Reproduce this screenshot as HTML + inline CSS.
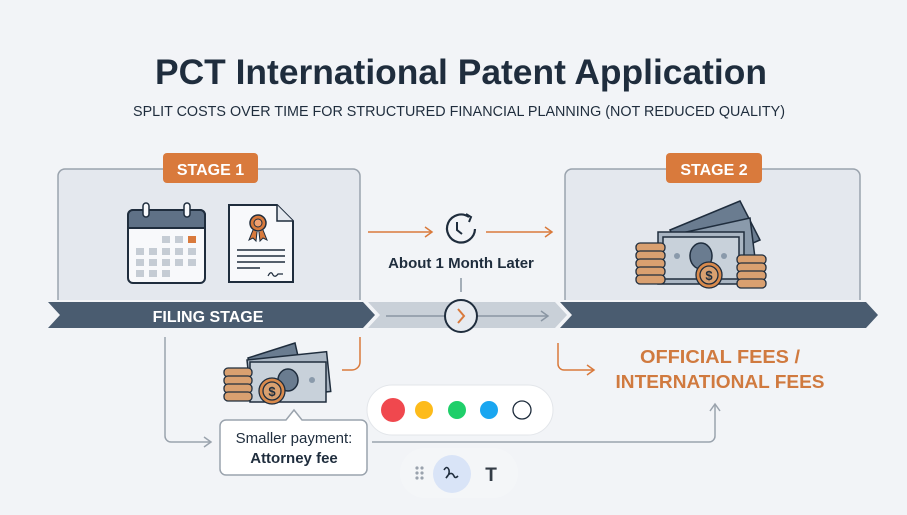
<!DOCTYPE html>
<html><head><meta charset="utf-8"><style>
html,body{margin:0;padding:0;background:#f2f4f7;}
svg{display:block;font-family:"Liberation Sans",sans-serif;}
</style></head><body>
<svg width="907" height="515" viewBox="0 0 907 515" xmlns="http://www.w3.org/2000/svg">
<rect width="907" height="515" fill="#f2f4f7"/>
<text x="461" y="84" text-anchor="middle" font-size="35" font-weight="bold" fill="#1f2d3d" textLength="612" lengthAdjust="spacingAndGlyphs">PCT International Patent Application</text>
<text x="459" y="116" text-anchor="middle" font-size="15" fill="#1f2d3d" textLength="652" lengthAdjust="spacingAndGlyphs">SPLIT COSTS OVER TIME FOR STRUCTURED FINANCIAL PLANNING (NOT REDUCED QUALITY)</text>

<path d="M58 300 V176 a7 7 0 0 1 7 -7 H353 a7 7 0 0 1 7 7 V300" fill="#e4e8ee" stroke="#9aa3ad" stroke-width="1.5"/>
<path d="M565 300 V176 a7 7 0 0 1 7 -7 H853 a7 7 0 0 1 7 7 V300" fill="#e4e8ee" stroke="#9aa3ad" stroke-width="1.5"/>
<rect x="163" y="153" width="95" height="30" rx="4" fill="#d97a3c"/>
<text x="210.5" y="175" text-anchor="middle" font-size="16" font-weight="bold" fill="#fff">STAGE 1</text>
<rect x="666" y="153" width="96" height="30" rx="4" fill="#d97a3c"/>
<text x="714" y="175" text-anchor="middle" font-size="16" font-weight="bold" fill="#fff">STAGE 2</text>

<polygon points="368,302 555,302 567,315 555,328 368,328 380,315" fill="#c9d0d8"/>
<polygon points="48,302 363,302 375,315 363,328 48,328 60,315" fill="#4a5c70"/>
<polygon points="560,302 866,302 878,315 866,328 560,328 572,315" fill="#4a5c70"/>
<text x="208" y="322" text-anchor="middle" font-size="16" font-weight="bold" fill="#fff">FILING STAGE</text>
<line x1="386" y1="316" x2="548" y2="316" stroke="#8a96a3" stroke-width="1.5"/>
<path d="M541 311 l7 5 -7 5" fill="none" stroke="#8a96a3" stroke-width="1.5"/>
<circle cx="461" cy="316" r="16" fill="#e7ebf0" stroke="#1f2d3d" stroke-width="2"/>
<path d="M458 309 l6 7 -6 7" fill="none" stroke="#d97a3c" stroke-width="2"/>
<line x1="461" y1="278" x2="461" y2="292" stroke="#8a96a3" stroke-width="1.5"/>

<rect x="128" y="210" width="77" height="73" rx="5" fill="#f8f9fb" stroke="#1f2d3d" stroke-width="2"/>
<path d="M128 228 V215 a5 5 0 0 1 5 -5 H200 a5 5 0 0 1 5 5 V228 Z" fill="#5f7186" stroke="#1f2d3d" stroke-width="2"/>
<rect x="143" y="203" width="6" height="14" rx="3" fill="#f8f9fb" stroke="#1f2d3d" stroke-width="1.5"/>
<rect x="184" y="203" width="6" height="14" rx="3" fill="#f8f9fb" stroke="#1f2d3d" stroke-width="1.5"/>
<g fill="#c5ccd4">
<rect x="162" y="236" width="8" height="7"/><rect x="175" y="236" width="8" height="7"/>
<rect x="136" y="248" width="8" height="7"/><rect x="149" y="248" width="8" height="7"/><rect x="162" y="248" width="8" height="7"/><rect x="175" y="248" width="8" height="7"/><rect x="188" y="248" width="8" height="7"/>
<rect x="136" y="259" width="8" height="7"/><rect x="149" y="259" width="8" height="7"/><rect x="162" y="259" width="8" height="7"/><rect x="175" y="259" width="8" height="7"/><rect x="188" y="259" width="8" height="7"/>
<rect x="136" y="270" width="8" height="7"/><rect x="149" y="270" width="8" height="7"/><rect x="162" y="270" width="8" height="7"/>
</g>
<rect x="188" y="236" width="8" height="7" fill="#d97a3c"/>
<path d="M229 205 H277 L293 221 V282 H229 Z" fill="#f8f9fb" stroke="#1f2d3d" stroke-width="2"/>
<path d="M277 205 V221 H293" fill="#e4e8ee" stroke="#1f2d3d" stroke-width="1.5"/>
<circle cx="258" cy="223" r="8" fill="#d97a3c" stroke="#1f2d3d" stroke-width="1.5"/>
<circle cx="258" cy="223" r="4" fill="#f0a070" stroke="#1f2d3d" stroke-width="1"/>
<path d="M253 230 l-4 10 4 -2 3 3 1 -9 M263 230 l4 10 -4 -2 -3 3 -1 -9" fill="#d97a3c" stroke="#1f2d3d" stroke-width="1"/>
<g stroke="#1f2d3d" stroke-width="1.5"><line x1="237" y1="250" x2="285" y2="250"/><line x1="237" y1="256" x2="285" y2="256"/><line x1="237" y1="262" x2="285" y2="262"/><line x1="237" y1="268" x2="260" y2="268"/></g>
<path d="M268 276 q3 -6 5 -1 q2 3 5 -1 l5 0" fill="none" stroke="#1f2d3d" stroke-width="1.2"/>

<line x1="368" y1="232" x2="432" y2="232" stroke="#d97a3c" stroke-width="1.5"/>
<path d="M425 227 l7 5 -7 5" fill="none" stroke="#d97a3c" stroke-width="1.5"/>
<line x1="486" y1="232" x2="552" y2="232" stroke="#d97a3c" stroke-width="1.5"/>
<path d="M545 227 l7 5 -7 5" fill="none" stroke="#d97a3c" stroke-width="1.5"/>
<path d="M469 217 A14 14 0 1 0 475 229" fill="none" stroke="#1f2d3d" stroke-width="2.2"/>
<path d="M466 214 l5 3 -2 5" fill="none" stroke="#1f2d3d" stroke-width="2"/>
<path d="M457 222 v8 l5 4" fill="none" stroke="#1f2d3d" stroke-width="2"/>
<text x="461" y="268" text-anchor="middle" font-size="15" font-weight="bold" fill="#1f2d3d">About 1 Month Later</text>

<g stroke="#1f2d3d" stroke-width="1.5">
<polygon points="670,230 740,201 760,240 690,270" fill="#6a7c90"/>
<polygon points="668,236 750,218 756,266 674,282" fill="#8a9aab"/>
<rect x="658" y="232" width="86" height="52" fill="#aab6c3"/>
<rect x="663" y="237" width="76" height="42" fill="#c8d1da"/>
<ellipse cx="701" cy="256" rx="11" ry="13" fill="#6a7c90"/>
<circle cx="677" cy="256" r="3" fill="#8a9aab" stroke="none"/><circle cx="724" cy="256" r="3" fill="#8a9aab" stroke="none"/>
</g>
<g stroke="#1f2d3d" stroke-width="1.3" fill="#d9a070">
<rect x="636" y="243" width="29" height="9" rx="4"/><rect x="636" y="251" width="29" height="9" rx="4"/><rect x="636" y="259" width="29" height="9" rx="4"/><rect x="636" y="267" width="29" height="9" rx="4"/><rect x="636" y="275" width="29" height="9" rx="4"/>
<rect x="737" y="255" width="29" height="9" rx="4"/><rect x="737" y="263" width="29" height="9" rx="4"/><rect x="737" y="271" width="29" height="9" rx="4"/><rect x="737" y="279" width="29" height="9" rx="4"/>
<circle cx="709" cy="275" r="13" fill="#d98a4c"/><circle cx="709" cy="275" r="9"/>
</g>
<text x="709" y="280" text-anchor="middle" font-size="13" font-weight="bold" fill="#1f2d3d">$</text>

<g stroke="#1f2d3d" stroke-width="1.5">
<polygon points="248,358 295,343 305,387 258,398" fill="#6a7c90"/>
<rect x="247" y="360" width="80" height="40" fill="#aab6c3" transform="rotate(-6 247 360)"/>
<rect x="250" y="362" width="76" height="40" fill="#c8d1da"/>
<ellipse cx="288" cy="380" rx="10" ry="11" fill="#6a7c90"/>
<circle cx="312" cy="380" r="3" fill="#8a9aab" stroke="none"/>
</g>
<g stroke="#1f2d3d" stroke-width="1.3" fill="#d9a070">
<rect x="224" y="368" width="28" height="9" rx="4"/><rect x="224" y="376" width="28" height="9" rx="4"/><rect x="224" y="384" width="28" height="9" rx="4"/><rect x="224" y="392" width="28" height="9" rx="4"/>
<circle cx="272" cy="391" r="13" fill="#d98a4c"/><circle cx="272" cy="391" r="9"/>
</g>
<text x="272" y="396" text-anchor="middle" font-size="13" font-weight="bold" fill="#1f2d3d">$</text>

<path d="M165 337 V436 a6 6 0 0 0 6 6 H211" fill="none" stroke="#9aa3ad" stroke-width="1.5"/>
<path d="M204 437 l7 5 -7 5" fill="none" stroke="#9aa3ad" stroke-width="1.5"/>
<path d="M372 442 H709 a6 6 0 0 0 6 -6 V404" fill="none" stroke="#9aa3ad" stroke-width="1.5"/>
<path d="M710 411 l5 -7 5 7" fill="none" stroke="#9aa3ad" stroke-width="1.5"/>
<path d="M360 337 V362 a8 8 0 0 1 -8 8 H342" fill="none" stroke="#d97a3c" stroke-width="1.5"/>
<path d="M558 343 V364 a6 6 0 0 0 6 6 H594" fill="none" stroke="#d97a3c" stroke-width="1.5"/>
<path d="M587 365 l7 5 -7 5" fill="none" stroke="#d97a3c" stroke-width="1.5"/>
<text x="720" y="363" text-anchor="middle" font-size="18" font-weight="bold" fill="#d07a3f" textLength="160" lengthAdjust="spacingAndGlyphs">OFFICIAL FEES /</text>
<text x="720" y="388" text-anchor="middle" font-size="18" font-weight="bold" fill="#d07a3f" textLength="209" lengthAdjust="spacingAndGlyphs">INTERNATIONAL FEES</text>

<path d="M226 420 H286 L294 410 L302 420 H361 a6 6 0 0 1 6 6 V469 a6 6 0 0 1 -6 6 H226 a6 6 0 0 1 -6 -6 V426 a6 6 0 0 1 6 -6 Z" fill="#fff" stroke="#9aa3ad" stroke-width="1.5"/>
<text x="294" y="443" text-anchor="middle" font-size="15" fill="#1f2d3d">Smaller payment:</text>
<text x="294" y="463" text-anchor="middle" font-size="15" font-weight="bold" fill="#1f2d3d">Attorney fee</text>

<rect x="367" y="385" width="186" height="50" rx="25" fill="#fff" stroke="#e3e6ea" stroke-width="1"/>
<circle cx="393" cy="410" r="12" fill="#f0484e"/>
<circle cx="424" cy="410" r="9" fill="#fdbb1a"/>
<circle cx="457" cy="410" r="9" fill="#1fcf6a"/>
<circle cx="489" cy="410" r="9" fill="#1aa6f0"/>
<circle cx="522" cy="410" r="9" fill="#fff" stroke="#1f2d3d" stroke-width="1.3"/>

<rect x="400" y="448" width="118" height="50" rx="25" fill="#f4f6f8"/>
<g fill="#9aa3ad"><circle cx="417" cy="468" r="1.6"/><circle cx="422" cy="468" r="1.6"/><circle cx="417" cy="473" r="1.6"/><circle cx="422" cy="473" r="1.6"/><circle cx="417" cy="478" r="1.6"/><circle cx="422" cy="478" r="1.6"/></g>
<circle cx="452" cy="474" r="19" fill="#d9e4f7"/>
<path d="M444 470 q3 -5 5 0 q1 4 -3 8 q5 -8 8 -2 q1 3 4 0" fill="none" stroke="#1f2d3d" stroke-width="1.6"/>
<text x="491" y="481" text-anchor="middle" font-size="19" font-weight="bold" fill="#333c46">T</text>
</svg>
</body></html>
